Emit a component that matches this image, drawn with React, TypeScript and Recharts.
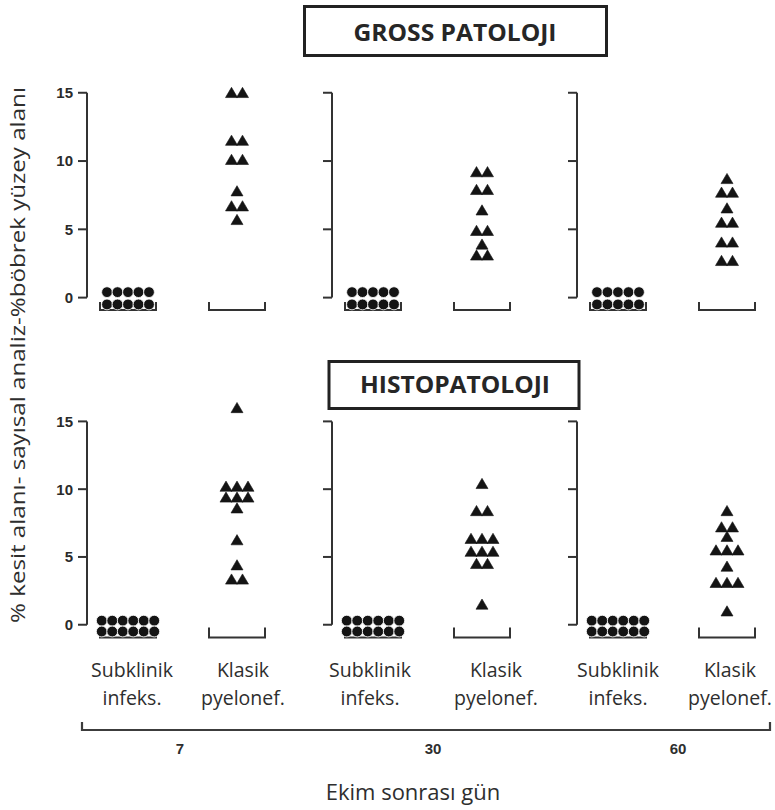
import React from "react";
import { ScatterChart, Scatter, XAxis, YAxis, ReferenceLine } from "recharts";

// ---------- data ----------
const days = ["7", "30", "60"];
const groupLabels = [
  ["Subklinik", "infeks."],
  ["Klasik", "pyelonef."],
];
const yTicks = [0, 5, 10, 15];
const panelTitles = ["GROSS PATOLOJI", "HISTOPATOLOJI"];
const yAxisTitle = "% kesit alanı- sayısal  analiz-%böbrek yüzey alanı";
const xAxisTitle = "Ekim sonrası gün";

// Gross pathology (top row)
const grossSubklinik7 = [0.4, 0.4, 0.4, 0.4, 0.4, -0.5, -0.5, -0.5, -0.5, -0.5];
const grossKlasik7 = [15, 15, 11.5, 11.5, 10.1, 10.1, 7.8, 6.7, 6.7, 5.7];
const grossSubklinik30 = [0.4, 0.4, 0.4, 0.4, 0.4, -0.5, -0.5, -0.5, -0.5, -0.5];
const grossKlasik30 = [9.2, 9.2, 7.9, 7.9, 6.4, 4.9, 4.9, 3.9, 3.1, 3.1];
const grossSubklinik60 = [0.4, 0.4, 0.4, 0.4, 0.4, -0.5, -0.5, -0.5, -0.5, -0.5];
const grossKlasik60 = [8.7, 7.7, 7.7, 6.55, 5.5, 5.5, 4.05, 4.05, 2.7, 2.7];

// Histopathology (bottom row)
const histoSubklinik7 = [0.3, 0.3, 0.3, 0.3, 0.3, 0.3, -0.5, -0.5, -0.5, -0.5, -0.5, -0.5];
const histoKlasik7 = [16, 10.2, 10.2, 10.2, 9.4, 9.4, 9.4, 8.6, 6.25, 4.4, 3.35, 3.35];
const histoSubklinik30 = [0.3, 0.3, 0.3, 0.3, 0.3, 0.3, -0.5, -0.5, -0.5, -0.5, -0.5, -0.5];
const histoKlasik30 = [10.4, 8.4, 8.4, 6.35, 6.35, 6.35, 5.4, 5.4, 5.4, 4.5, 4.5, 1.5];
const histoSubklinik60 = [0.3, 0.3, 0.3, 0.3, 0.3, 0.3, -0.5, -0.5, -0.5, -0.5, -0.5, -0.5];
const histoKlasik60 = [8.4, 7.2, 7.2, 6.5, 5.5, 5.5, 5.5, 4.3, 3.1, 3.1, 3.1, 1.0];

const grossSubklinik = [grossSubklinik7, grossSubklinik30, grossSubklinik60];
const grossKlasik = [grossKlasik7, grossKlasik30, grossKlasik60];
const histoSubklinik = [histoSubklinik7, histoSubklinik30, histoSubklinik60];
const histoKlasik = [histoKlasik7, histoKlasik30, histoKlasik60];

// ---------- layout ----------
const AXIS = "#333";
const X_MIN = 1 - 41 / 109;
const X_MAX = X_MIN + 185 / 109;
const axisX = [87, 332, 577];
const labelShift = [
  [4, 6],
  [-3, 14],
  [0, 3],
];

type Pt = { x: number; y: number; off: number };

// dot-plot layout: equal values are placed side by side
function toPoints(values: number[], x: number): Pt[] {
  const counts = new Map<number, number>();
  values.forEach((v) => counts.set(v, (counts.get(v) || 0) + 1));
  const seen = new Map<number, number>();
  return values.map((v) => {
    const n = counts.get(v) || 1;
    const i = seen.get(v) || 0;
    seen.set(v, i + 1);
    return { x, y: v, off: i - (n - 1) / 2 };
  });
}

const Dot = (props: any) => {
  const { cx, cy, payload } = props;
  if (cx == null || cy == null) return null;
  return <circle cx={cx + payload.off * 10.5} cy={cy} r={5.4} fill="#141414" stroke="#fff" strokeWidth={0.8} />;
};

const Tri = (props: any) => {
  const { cx, cy, payload } = props;
  if (cx == null || cy == null) return null;
  const x = cx + payload.off * 11;
  return (
    <polygon
      points={`${x - 6},${cy + 4.8} ${x + 6},${cy + 4.8} ${x},${cy - 5.4}`}
      fill="#141414"
      stroke="#141414"
      strokeWidth={0.6}
      strokeLinejoin="round"
    />
  );
};

const makeBracket = (h: number) => (props: any) => {
  const { cx, cy } = props;
  if (cx == null || cy == null) return null;
  return (
    <path
      d={`M${cx - 28},${cy - h} L${cx - 28},${cy} L${cx + 28},${cy} L${cx + 28},${cy - h}`}
      fill="none"
      stroke={AXIS}
      strokeWidth={2}
    />
  );
};

const makeTick = (panel: number) => (props: any) => {
  const { x, y, payload } = props;
  const gi = payload.value === 1 ? 0 : 1;
  const lines = groupLabels[gi];
  const tx = x + labelShift[panel][gi];
  return (
    <text x={tx} y={y} textAnchor="middle" fill="#2e2e2e" fontSize={19.5} fontFamily="'Open Sans', sans-serif">
      <tspan x={tx} dy={36}>{lines[0]}</tspan>
      <tspan x={tx} dy={28}>{lines[1]}</tspan>
    </text>
  );
};

function Panel({ row, panel }: { row: number; panel: number }) {
  const yw = panel === 0 ? 87 : 20;
  const left = axisX[panel] - yw;
  const mr = panel === 2 ? 775 - (left + yw + 185) : 40;
  const width = yw + 185 + mr;
  const top = row === 0 ? 70 : 390;
  const height = row === 0 ? 250 : 321;
  const margin = row === 0 ? { top: 5, right: mr, bottom: 6, left: 0 } : { top: 7, right: mr, bottom: 0, left: 0 };
  const yDomain = row === 0 ? [-1.2, 16.3] : [-1.2, 16.8];
  const subk = (row === 0 ? grossSubklinik : histoSubklinik)[panel];
  const klas = (row === 0 ? grossKlasik : histoKlasik)[panel];
  const bracketY = row === 0 ? -0.9 : -0.95;
  const brackets = [
    { x: 1, y: bracketY },
    { x: 2, y: bracketY },
  ];
  return (
    <div style={{ position: "absolute", left, top, width, height }}>
      <ScatterChart width={width} height={height} margin={margin}>
        <XAxis
          type="number"
          dataKey="x"
          domain={[X_MIN, X_MAX]}
          ticks={[1, 2]}
          hide={row === 0}
          height={70}
          axisLine={false}
          tickLine={false}
          tickSize={0}
          tickMargin={0}
          interval={0}
          tick={makeTick(panel)}
          allowDataOverflow
        />
        <YAxis
          type="number"
          dataKey="y"
          domain={yDomain}
          ticks={yTicks}
          width={yw}
          axisLine={false}
          tickLine={{ stroke: AXIS, strokeWidth: 2 }}
          tickSize={9}
          tickMargin={5}
          tickFormatter={panel === 0 ? (v: number) => String(v) : () => ""}
          tick={{ fill: "#2a2a2a", fontSize: 15, fontWeight: 700, fontFamily: "'Liberation Sans', Arial, sans-serif" }}
          allowDataOverflow
          interval={0}
        />
        <ReferenceLine
          segment={[
            { x: X_MIN, y: 0 },
            { x: X_MIN, y: 15 },
          ]}
          stroke={AXIS}
          strokeWidth={2}
          ifOverflow="visible"
        />
        <Scatter data={brackets} shape={makeBracket(row === 0 ? 8 : 10)} isAnimationActive={false} />
        <Scatter data={toPoints(subk, 1)} shape={Dot} isAnimationActive={false} />
        <Scatter data={toPoints(klas, 2)} shape={Tri} isAnimationActive={false} />
      </ScatterChart>
    </div>
  );
}

function Overlay() {
  const dayX = [180, 433, 678];
  return (
    <svg width={775} height={810} style={{ position: "absolute", left: 0, top: 0, pointerEvents: "none" }}>
      <rect x={304.5} y={6.5} width={302} height={49} fill="#fff" stroke="#222" strokeWidth={3} />
      <text
        x={455}
        y={41}
        textAnchor="middle"
        fontSize={24}
        fontWeight={700}
        fill="#262626"
        fontFamily="'Open Sans', sans-serif"
        textLength={203}
        lengthAdjust="spacingAndGlyphs"
      >
        {panelTitles[0]}
      </text>
      <rect x={329} y={361.5} width={250} height={47} fill="#fff" stroke="#222" strokeWidth={3} />
      <text
        x={455}
        y={393}
        textAnchor="middle"
        fontSize={24}
        fontWeight={700}
        fill="#262626"
        fontFamily="'Open Sans', sans-serif"
        textLength={190}
        lengthAdjust="spacingAndGlyphs"
      >
        {panelTitles[1]}
      </text>
      <text
        x={17}
        y={355}
        transform="rotate(-90 17 355)"
        textAnchor="middle"
        dominantBaseline="central"
        fontSize={20}
        fill="#2e2e2e"
        fontFamily="'Open Sans', sans-serif"
        textLength={536}
        lengthAdjust="spacingAndGlyphs"
      >
        {yAxisTitle}
      </text>
      <path d="M82,722 L82,730 L770,730 L770,722" fill="none" stroke="#3c3c3c" strokeWidth={2.2} />
      {days.map((d, i) => (
        <text
          key={d}
          x={dayX[i]}
          y={754}
          textAnchor="middle"
          fontSize={15}
          fontWeight={700}
          fill="#2e2e2e"
          fontFamily="'Liberation Sans', Arial, sans-serif"
        >
          {d}
        </text>
      ))}
      <text x={413} y={800} textAnchor="middle" fontSize={22} fill="#2e2e2e" fontFamily="'Open Sans', sans-serif">
        {xAxisTitle}
      </text>
    </svg>
  );
}

export default function App() {
  return (
    <div style={{ position: "absolute", left: 0, top: 0, width: 775, height: 810, background: "#fff", overflow: "hidden" }}>
      {[0, 1].map((row) => [0, 1, 2].map((p) => <Panel key={`${row}-${p}`} row={row} panel={p} />))}
      <Overlay />
    </div>
  );
}
